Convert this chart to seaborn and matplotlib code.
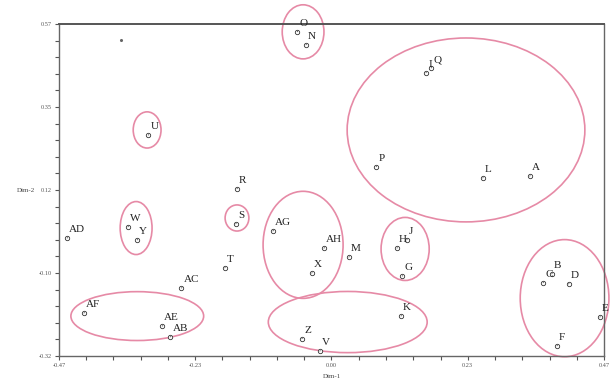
import matplotlib
matplotlib.use("Agg")
import matplotlib.pyplot as plt
from matplotlib.patches import Ellipse
from matplotlib.ticker import AutoMinorLocator, FixedLocator
import seaborn as sns
import pandas as pd

# ---- data ----
labels = ["O", "N", "I", "Q", "P", "L", "A", "U", "W", "Y", "AD", "AF", "AE", "AB",
          "AC", "T", "R", "S", "AG", "AH", "X", "M", "H", "J", "G", "K", "Z", "V",
          "C", "B", "D", "E", "F"]
dim1 = [-0.059, -0.044, 0.163, 0.172, 0.077, 0.261, 0.342, -0.316, -0.351, -0.335,
        -0.456, -0.427, -0.292, -0.278, -0.259, -0.184, -0.163, -0.165, -0.101,
        -0.013, -0.034, 0.030, 0.113, 0.130, 0.122, 0.120, -0.051, -0.020,
        0.365, 0.380, 0.409, 0.463, 0.389]
dim2 = [0.549, 0.514, 0.439, 0.452, 0.187, 0.157, 0.162, 0.272, 0.026, -0.009,
        -0.004, -0.205, -0.240, -0.269, -0.138, -0.084, 0.128, 0.034, 0.015,
        -0.031, -0.098, -0.055, -0.031, -0.009, -0.106, -0.213, -0.274, -0.307,
        -0.124, -0.100, -0.127, -0.216, -0.293]

# stray dot
stray_x = [-0.363]
stray_y = [0.527]

# group ellipses (centre x, centre y, width, height) in data units
ell_cx = [-0.049, 0.232, -0.318, -0.337, -0.163, -0.049, 0.127, -0.335, 0.028, 0.402]
ell_cy = [0.549, 0.286, 0.286, 0.023, 0.050, -0.022, -0.033, -0.213, -0.229, -0.165]
ell_w = [0.072, 0.410, 0.048, 0.055, 0.041, 0.138, 0.083, 0.229, 0.274, 0.153]
ell_h = [0.145, 0.493, 0.097, 0.142, 0.070, 0.287, 0.169, 0.131, 0.164, 0.314]

xticks = [-0.47, -0.235, 0.0, 0.235, 0.47]
xticklabels = ["-0.47", "-0.23", "0.00", "0.23", "0.47"]
yticks = [-0.32, -0.0975, 0.125, 0.3475, 0.57]
yticklabels = ["-0.32", "-0.10", "0.12", "0.35", "0.57"]

df = pd.DataFrame({"label": labels, "Dim-1": dim1, "Dim-2": dim2})

sns.set_style("white")
plt.rcParams["font.family"] = ["Liberation Serif", "DejaVu Serif"]

fig = plt.figure(figsize=(6.11, 3.81), dpi=100)
ax = fig.add_axes([59 / 611, 1 - 356 / 381, (604 - 59) / 611, (356 - 24) / 381])

pink = "#e68aa6"
for cx, cy, w, h in zip(ell_cx, ell_cy, ell_w, ell_h):
    ax.add_patch(Ellipse((cx, cy), w, h, fill=False, edgecolor=pink, lw=1.2,
                         clip_on=False, zorder=1))

sns.scatterplot(data=df, x="Dim-1", y="Dim-2", ax=ax, s=10, marker="o",
                facecolor="white", edgecolor="#333333", linewidth=0.6, zorder=3)
ax.scatter(stray_x, stray_y, s=1.5, color="#666666", zorder=3)

for lab, x, y in zip(labels, dim1, dim2):
    ax.annotate(lab, (x, y), xytext=(1.5, 6.0), textcoords="offset points",
                ha="left", va="center", fontsize=8, color="#222222",
                arrowprops=dict(arrowstyle="-", lw=0.5, color="#333333",
                                shrinkA=0, shrinkB=1.5),
                zorder=4, annotation_clip=False)

ax.set_xlim(-0.47, 0.47)
ax.set_ylim(-0.32, 0.57)
ax.xaxis.set_major_locator(FixedLocator(xticks))
ax.set_xticklabels(xticklabels)
ax.yaxis.set_major_locator(FixedLocator(yticks))
ax.set_yticklabels(yticklabels)
ax.xaxis.set_minor_locator(AutoMinorLocator(5))
ax.yaxis.set_minor_locator(AutoMinorLocator(5))
ax.tick_params(which="both", direction="out", length=3, width=0.8, color="#555555",
               labelsize=4.5, labelcolor="#555555", pad=2)
ax.tick_params(axis="x", which="both", bottom=True, top=False)
ax.tick_params(axis="y", which="both", left=True, right=False)

for side, sp in ax.spines.items():
    sp.set_visible(True)
    sp.set_color("#666666")
    sp.set_linewidth(1.0)
ax.spines["top"].set_linewidth(1.4)
ax.spines["top"].set_color("#555555")

ax.set_xlabel("Dim-1", fontsize=5, color="#444444", labelpad=4)
ax.set_ylabel("Dim-2", fontsize=5, color="#444444", rotation=0, labelpad=3,
              va="center", ha="right")

fig.savefig("out.png", dpi=100)
